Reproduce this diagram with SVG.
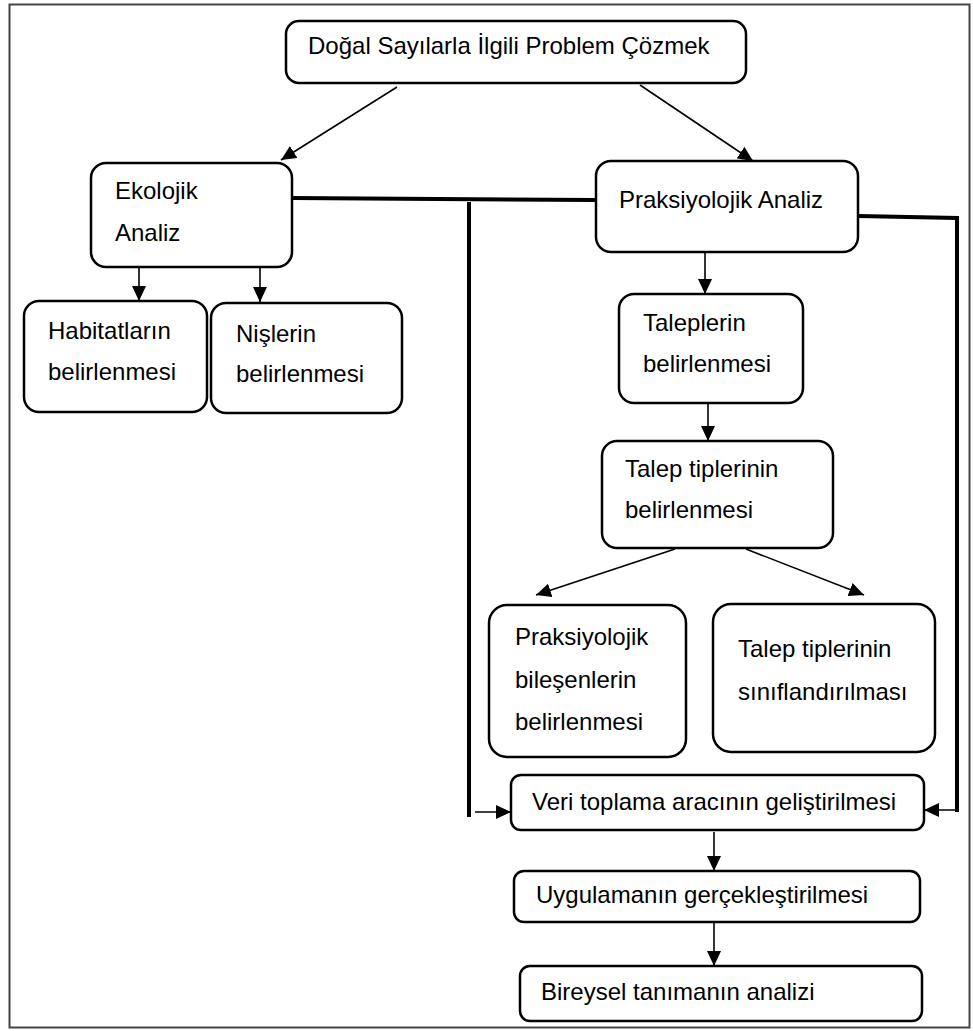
<svg xmlns="http://www.w3.org/2000/svg" width="973" height="1031" viewBox="0 0 973 1031">
<style>
.box{fill:#fff;stroke:#000;stroke-width:2.5}
.t{font-family:"Liberation Sans",Arial,sans-serif;font-size:24px;fill:#000}
.c{stroke:#000;stroke-width:1.6;fill:none}
.k{stroke:#000;stroke-width:4;fill:none}
</style>
<defs>
<marker id="ah" markerUnits="userSpaceOnUse" markerWidth="16" markerHeight="14" refX="15" refY="7" orient="auto">
<path d="M0,0 L15,7 L0,14 Z" fill="#000"/>
</marker>
</defs>
<rect width="973" height="1031" fill="#fff"/>
<rect x="9.5" y="4.5" width="960" height="1023" fill="none" stroke="#444" stroke-width="2"/>
<g id="connectors">
<line class="c" x1="397" y1="87" x2="281" y2="160" marker-end="url(#ah)"/>
<line class="c" x1="640" y1="85" x2="753" y2="161" marker-end="url(#ah)"/>
<line class="c" x1="139" y1="267" x2="139" y2="301" marker-end="url(#ah)"/>
<line class="c" x1="260" y1="267" x2="260" y2="302" marker-end="url(#ah)"/>
<line class="c" x1="705" y1="252" x2="705" y2="294" marker-end="url(#ah)"/>
<line class="c" x1="708" y1="403" x2="708" y2="441" marker-end="url(#ah)"/>
<line class="c" x1="675" y1="549" x2="536" y2="595" marker-end="url(#ah)"/>
<line class="c" x1="746" y1="549" x2="864" y2="595" marker-end="url(#ah)"/>
<line class="c" x1="714" y1="832" x2="714" y2="871" marker-end="url(#ah)"/>
<line class="c" x1="714" y1="922" x2="714" y2="966" marker-end="url(#ah)"/>
<polyline class="k" points="292,198 596,200"/>
<polyline class="k" points="469,202 469,817"/>
<line class="c" x1="475" y1="812" x2="511" y2="812" stroke-width="2" marker-end="url(#ah)"/>
<polyline class="k" points="858,216 957,218 957,812"/>
<line class="c" x1="957" y1="810" x2="924" y2="810" stroke-width="2" marker-end="url(#ah)"/>
</g>
<g id="n-top">
<rect class="box" x="286" y="21" width="460" height="62" rx="13"/>
<text class="t" x="308" y="54">Doğal Sayılarla İlgili Problem Çözmek</text>
</g>
<g id="n-ekolojik">
<rect class="box" x="91" y="163" width="201" height="104" rx="15"/>
<text class="t" x="115" y="199">Ekolojik</text>
<text class="t" x="115" y="241">Analiz</text>
</g>
<g id="n-praksiyolojik">
<rect class="box" x="596" y="161" width="262" height="91" rx="15"/>
<text class="t" x="619" y="208">Praksiyolojik Analiz</text>
</g>
<g id="n-habitat">
<rect class="box" x="24" y="301" width="183" height="111" rx="15"/>
<text class="t" x="48" y="339">Habitatların</text>
<text class="t" x="48" y="380">belirlenmesi</text>
</g>
<g id="n-nis">
<rect class="box" x="211" y="303" width="191" height="110" rx="15"/>
<text class="t" x="236" y="342">Nişlerin</text>
<text class="t" x="236" y="382">belirlenmesi</text>
</g>
<g id="n-talepler">
<rect class="box" x="619" y="294" width="184" height="109" rx="15"/>
<text class="t" x="643" y="331">Taleplerin</text>
<text class="t" x="643" y="372">belirlenmesi</text>
</g>
<g id="n-talep-tip">
<rect class="box" x="602" y="441" width="231" height="107" rx="15"/>
<text class="t" x="625" y="477">Talep tiplerinin</text>
<text class="t" x="625" y="518">belirlenmesi</text>
</g>
<g id="n-bilesen">
<rect class="box" x="489" y="605" width="197" height="152" rx="18"/>
<text class="t" x="515" y="645">Praksiyolojik</text>
<text class="t" x="515" y="688">bileşenlerin</text>
<text class="t" x="515" y="730">belirlenmesi</text>
</g>
<g id="n-siniflandirma">
<rect class="box" x="713" y="604" width="222" height="148" rx="18"/>
<text class="t" x="738" y="657">Talep tiplerinin</text>
<text class="t" x="738" y="700">sınıflandırılması</text>
</g>
<g id="n-veri">
<rect class="box" x="511" y="775" width="413" height="55" rx="10"/>
<text class="t" x="532" y="810">Veri toplama aracının geliştirilmesi</text>
</g>
<g id="n-uygulama">
<rect class="box" x="514" y="871" width="406" height="51" rx="10"/>
<text class="t" x="536" y="903">Uygulamanın gerçekleştirilmesi</text>
</g>
<g id="n-bireysel">
<rect class="box" x="520" y="966" width="402" height="55" rx="10"/>
<text class="t" x="541" y="1000">Bireysel tanımanın analizi</text>
</g>
</svg>
